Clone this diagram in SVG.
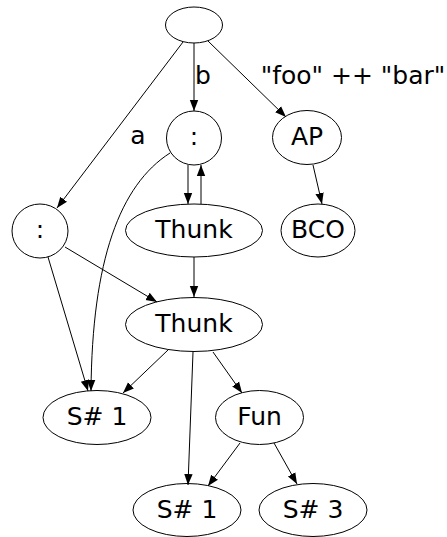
<svg xmlns="http://www.w3.org/2000/svg" width="447" height="537" viewBox="0 0 447 537">
<style>
.n ellipse{fill:none;stroke:#000;stroke-width:1}
text{font-family:"DejaVu Sans",sans-serif;font-size:25px;fill:#000;text-anchor:middle}
.e path{fill:none;stroke:#000;stroke-width:1;marker-end:url(#ah)}
</style>
<defs>
<marker id="ah" markerUnits="userSpaceOnUse" markerWidth="12" markerHeight="10" refX="11" refY="4.2" orient="auto" viewBox="0 0 12 9">
<path d="M0,0 L11,4.2 L0,8.4 z" fill="#000"/>
</marker>
</defs>
<rect width="447" height="537" fill="#fff"/>
<g class="e" id="edges">
<path d="M183,42 L57,208"/>
<path d="M194,43 L194,111"/>
<path d="M208,41 L286,117"/>
<path d="M188,165 L188,204"/>
<path d="M201,204 L201,165"/>
<path d="M170,153 C120,185 92,260 91,391"/>
<path d="M48,257 L88,391"/>
<path d="M65,247 L157,302"/>
<path d="M194,257 L194,297"/>
<path d="M313,165 L322,204"/>
<path d="M168,350 L123,393"/>
<path d="M193,352 L188,485"/>
<path d="M213,352 L242,393"/>
<path d="M240,443 L208,486"/>
<path d="M274,443 L297,484"/>
</g>
<g id="labels">
<text x="138" y="144">a</text>
<text x="203" y="84">b</text>
<text x="353" y="84">"foo" ++ "bar"</text>
</g>
<g class="n" id="root"><ellipse cx="194" cy="25" rx="28.5" ry="18"/></g>
<g class="n" id="cons1"><ellipse cx="194" cy="138" rx="27.5" ry="27"/><text x="194" y="145">:</text></g>
<g class="n" id="ap"><ellipse cx="307" cy="137.5" rx="34.5" ry="27"/><text x="307" y="145">AP</text></g>
<g class="n" id="cons2"><ellipse cx="40" cy="231" rx="28" ry="27"/><text x="40" y="238">:</text></g>
<g class="n" id="thunk1"><ellipse cx="194" cy="230.5" rx="68.5" ry="26.5"/><text x="194" y="238">Thunk</text></g>
<g class="n" id="bco"><ellipse cx="318" cy="230.5" rx="37" ry="26.5"/><text x="318" y="238">BCO</text></g>
<g class="n" id="thunk2"><ellipse cx="194" cy="324.5" rx="68.5" ry="27"/><text x="194" y="332">Thunk</text></g>
<g class="n" id="s1a"><ellipse cx="97" cy="417.5" rx="54" ry="27"/><text x="97" y="425">S# 1</text></g>
<g class="n" id="fun"><ellipse cx="259.5" cy="417.5" rx="44" ry="27"/><text x="259.5" y="425">Fun</text></g>
<g class="n" id="s1b"><ellipse cx="187" cy="510" rx="54" ry="26.5"/><text x="187" y="518">S# 1</text></g>
<g class="n" id="s3"><ellipse cx="313" cy="510" rx="54" ry="26.5"/><text x="313" y="518">S# 3</text></g>
</svg>
